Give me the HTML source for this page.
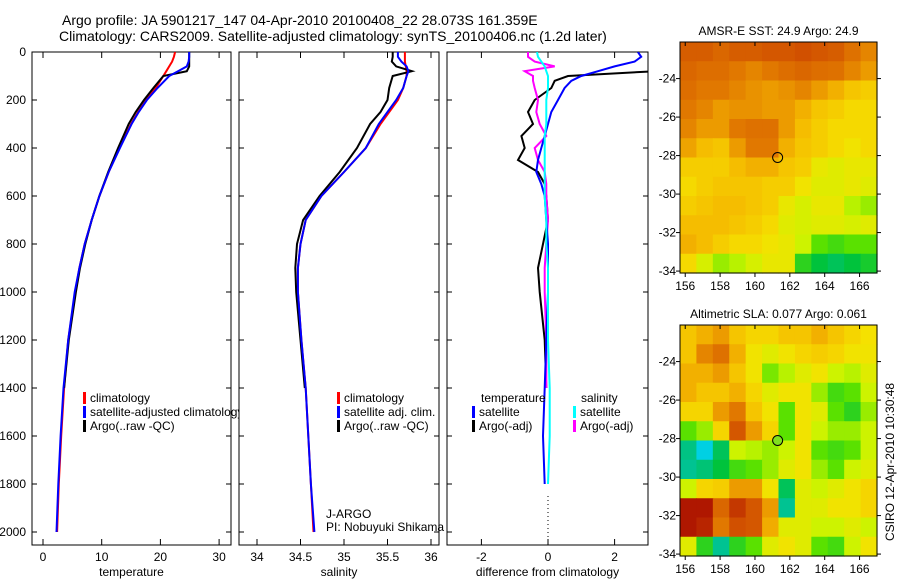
<!DOCTYPE html>
<html><head><meta charset="utf-8"><style>
body{margin:0;background:#fff;}
svg{display:block;font-family:"Liberation Sans",sans-serif;}
</style></head><body>
<svg id="c" width="900" height="580"></svg>
<script>
const depthsP=[0,20,40,60,80,100,150,200,250,300,400,500,600,700,800,900,1000,1200,1400,1600,1800,2000];
const tempClim=[22.5,22.3,22,21.5,21,20.5,19.2,17.6,16.2,15,13,11.2,9.6,8.3,7.1,6.2,5.5,4.3,3.6,3.1,2.7,2.4];
const tempSatClim=[24.9,24.9,24.8,24.5,23,21.5,19.5,17.7,16.3,15.1,13.1,11.2,9.6,8.3,7.1,6.2,5.4,4.3,3.5,3.0,2.6,2.3];
const tempArgo=[24.9,24.9,24.9,24.9,24.5,20.5,18.8,17.2,15.8,14.6,12.8,11.1,9.6,8.3,7.2,6.3,5.6,4.4,3.6,null,null,null];
const salClim=[35.70,35.70,35.70,35.71,35.72,35.72,35.68,35.62,35.52,35.42,35.25,35.0,34.74,34.56,34.5,34.47,34.47,34.51,34.56,34.59,34.62,34.65];
const salSatClim=[35.62,35.62,35.66,35.72,35.74,35.72,35.68,35.6,35.5,35.4,35.25,35.0,34.74,34.56,34.5,34.47,34.47,34.51,34.56,34.59,34.62,34.66];
const salArgo=[35.56,35.56,35.55,35.6,35.78,35.56,35.52,35.50,35.42,35.30,35.15,34.95,34.72,34.53,34.46,34.44,34.45,34.5,34.55,null,null,null];
const depthsD=[0,20,40,60,80,100,120,150,200,250,300,350,400,450,500,550,600,700,800,900,1000,1200,1400,1600,1800];
const dTempSat=[2.7,2.8,2.6,2.0,1.5,1.0,0.7,0.5,0.3,0.1,0,-0.1,-0.2,-0.3,-0.35,-0.2,-0.1,-0.05,0,0,0,-0.05,-0.1,-0.15,-0.1];
const dTempArgo=[3.5,3.5,3.5,3.5,3.2,0.6,0.2,0.1,-0.4,-0.6,-0.45,-0.8,-0.7,-0.9,-0.3,-0.1,-0.05,0,-0.15,-0.3,-0.25,-0.1,-0.05,null,null];
const dSalSat=[-0.33,-0.3,-0.2,-0.1,-0.05,0,0,0,-0.05,-0.05,-0.05,-0.1,-0.1,-0.1,-0.1,-0.1,-0.1,-0.05,-0.05,0,0,0,0.05,0.05,0];
const dSalArgo=[-0.6,-0.6,-0.4,0.2,-0.7,-0.45,-0.45,-0.4,-0.3,-0.35,-0.25,-0.05,-0.4,-0.3,-0.1,-0.05,-0.05,0,-0.05,-0.1,-0.1,-0.05,-0.05,null,null];
const depthTicks=[0,200,400,600,800,1000,1200,1400,1600,1800,2000];
const tempTicks=[0,10,20,30];
const salTicks=[34,34.5,35,35.5,36];
const salTickLabels=["34","34.5","35","35.5","36"];
const diffTicks=[-2,0,2];
const lonTicks=[156,158,160,162,164,166];
const latTicks=[-24,-26,-28,-30,-32,-34];
const sstGrid=[
[0.22,0.22,0.25,0.22,0.22,0.2,0.2,0.18,0.2,0.22,0.28,0.33],
[0.25,0.27,0.27,0.3,0.33,0.3,0.27,0.25,0.27,0.28,0.33,0.38],
[0.27,0.3,0.3,0.33,0.36,0.38,0.36,0.33,0.38,0.43,0.48,0.5],
[0.3,0.33,0.38,0.36,0.36,0.38,0.38,0.43,0.48,0.5,0.53,0.53],
[0.33,0.38,0.38,0.3,0.28,0.28,0.38,0.46,0.5,0.53,0.53,0.53],
[0.4,0.46,0.48,0.38,0.3,0.3,0.43,0.48,0.5,0.53,0.56,0.53],
[0.5,0.5,0.5,0.46,0.43,0.43,0.48,0.5,0.58,0.6,0.58,0.58],
[0.53,0.5,0.48,0.48,0.48,0.5,0.5,0.56,0.6,0.6,0.58,0.6],
[0.5,0.48,0.46,0.46,0.48,0.5,0.58,0.62,0.58,0.58,0.66,0.68],
[0.46,0.46,0.46,0.48,0.5,0.53,0.6,0.62,0.6,0.6,0.62,0.6],
[0.43,0.46,0.5,0.53,0.53,0.56,0.58,0.64,0.72,0.74,0.72,0.72],
[0.53,0.62,0.68,0.66,0.62,0.58,0.58,0.76,0.8,0.82,0.8,0.78]];
const slaGrid=[
[0.48,0.43,0.38,0.48,0.52,0.52,0.48,0.48,0.43,0.48,0.52,0.55],
[0.48,0.33,0.28,0.43,0.56,0.6,0.56,0.52,0.5,0.52,0.56,0.56],
[0.43,0.43,0.38,0.48,0.56,0.7,0.66,0.6,0.56,0.64,0.66,0.6],
[0.43,0.48,0.48,0.43,0.52,0.6,0.56,0.56,0.68,0.74,0.72,0.64],
[0.52,0.52,0.38,0.3,0.48,0.56,0.72,0.56,0.6,0.72,0.76,0.68],
[0.72,0.68,0.52,0.2,0.38,0.52,0.72,0.56,0.64,0.68,0.68,0.64],
[0.85,0.92,0.82,0.64,0.66,0.68,0.64,0.56,0.72,0.74,0.72,0.64],
[0.86,0.84,0.8,0.74,0.72,0.68,0.6,0.56,0.68,0.72,0.64,0.6],
[0.64,0.52,0.5,0.38,0.38,0.56,0.82,0.6,0.64,0.6,0.56,0.52],
[0.05,0.05,0.25,0.12,0.2,0.38,0.86,0.6,0.6,0.56,0.56,0.52],
[0.05,0.08,0.3,0.18,0.2,0.42,0.6,0.6,0.64,0.64,0.6,0.64],
[0.6,0.76,0.86,0.76,0.72,0.6,0.56,0.6,0.72,0.74,0.64,0.56]];
const argoLon=161.3, argoLat=-28.1;

const S=document.getElementById('c');const NS='http://www.w3.org/2000/svg';
function mk(t,a,p){const e=document.createElementNS(NS,t);for(const k in a)e.setAttribute(k,a[k]);(p||S).appendChild(e);return e;}
function txt(x,y,s,anchor,size,p){const e=mk('text',{x:x,y:y,'font-size':size||12,'text-anchor':anchor||'start',fill:'#000'},p);e.textContent=s;return e;}
const yD=d=>52+0.24*d;
function panel(name,x0,x1,sx,ticks,labels,xlabel,leftLabels){
  const g=mk('g',{});
  
  
  const r=mk('rect',{x:x0,y:52,width:x1-x0,height:493,fill:'#fff',stroke:'#000','stroke-width':1},g);
  
  
  ticks.forEach((t,i)=>{const x=sx(t);mk('line',{x1:x,x2:x,y1:545,y2:539,stroke:'#000'},g);mk('line',{x1:x,x2:x,y1:52,y2:58,stroke:'#000'},g);
    const l=txt(x,561,labels[i],'middle',12,g);});
  depthTicks.forEach(d=>{const y=yD(d);mk('line',{x1:x0,x2:x0+5,y1:y,y2:y,stroke:'#000'},g);mk('line',{x1:x1,x2:x1-5,y1:y,y2:y,stroke:'#000'},g);
    if(leftLabels){const l=txt(x0-6,y+4,String(d),'end',12,g);}});
  const xl=txt((x0+x1)/2,576,xlabel,'middle',12,g);
  return g;
}
function line(g,vals,deps,sx,color,name,w){
  let pts=[];vals.forEach((v,i)=>{if(v!==null)pts.push(sx(v).toFixed(1)+','+yD(deps[i]).toFixed(1));});
  const p=mk('polyline',{points:pts.join(' '),fill:'none',stroke:color,'stroke-width':w||2},g);
  
  
}
function legend(g,x,y,color,label,name){
  const m=mk('rect',{x:x,y:y-10,width:3,height:12,fill:color},g);
  
  
  const t=txt(x+7,y,label,'start',12,g);
  
  
}
let t1=txt(62,25,'Argo profile: JA 5901217_147 04-Apr-2010 20100408_22 28.073S 161.359E','start',14);

let t2=txt(59,41,'Climatology: CARS2009. Satellite-adjusted climatology: synTS_20100406.nc (1.2d later)','start',14);

const sT=v=>43+5.87*v;
const g1=panel('temperature-panel',32,231,sT,tempTicks,tempTicks.map(String),'temperature',true);
const cp1=mk('clipPath',{id:'cp1'});mk('rect',{x:32,y:52,width:199,height:493},cp1);
const g1c=mk('g',{'clip-path':'url(#cp1)'},g1);
line(g1c,tempClim,depthsP,sT,'#f00','temp-climatology-line');
line(g1c,tempArgo,depthsP,sT,'#000','temp-argo-line');
line(g1c,tempSatClim,depthsP,sT,'#00f','temp-satellite-line');
legend(g1,83,402,'#f00','climatology','legend-climatology');
legend(g1,83,416,'#00f','satellite-adjusted climatology','legend-satellite-adjusted');
legend(g1,83,430,'#000','Argo(..raw -QC)','legend-argo');
const sS=v=>257+87*(v-34);
const g2=panel('salinity-panel',239,439,sS,salTicks,salTickLabels,'salinity',false);
const cp2=mk('clipPath',{id:'cp2'});mk('rect',{x:239,y:52,width:200,height:493},cp2);
const g2c=mk('g',{'clip-path':'url(#cp2)'},g2);
line(g2c,salClim,depthsP,sS,'#f00','sal-climatology-line');
line(g2c,salArgo,depthsP,sS,'#000','sal-argo-line');
line(g2c,salSatClim,depthsP,sS,'#00f','sal-satellite-line');
legend(g2,337,402,'#f00','climatology','legend-sal-climatology');
legend(g2,337,416,'#00f','satellite adj. clim.','legend-sal-satellite');
legend(g2,337,430,'#000','Argo(..raw -QC)','legend-sal-argo');
let pi1=txt(326,518,'J-ARGO','start',12,g2);
let pi2=txt(326,531,'PI: Nobuyuki Shikama','start',12);
const sDf=v=>548+33.3*v;
const g3=panel('difference-panel',447,648,sDf,diffTicks,diffTicks.map(String),'difference from climatology',false);
const cp3=mk('clipPath',{id:'cp3'});mk('rect',{x:447,y:52,width:201,height:493},cp3);
const g3c=mk('g',{'clip-path':'url(#cp3)'},g3);
const zl=mk('line',{x1:sDf(0),x2:sDf(0),y1:yD(1850),y2:545,stroke:'#000','stroke-dasharray':'1,3'},g3);

line(g3c,dTempArgo,depthsD,sDf,'#000','diff-temp-argo-line');
line(g3c,dSalArgo,depthsD,sDf,'#f0f','diff-sal-argo-line');
line(g3c,dTempSat,depthsD,sDf,'#00f','diff-temp-satellite-line');
line(g3c,dSalSat,depthsD,sDf,'#0ff','diff-sal-satellite-line');
let lt=txt(481,402,'temperature','start',12,g3);
legend(g3,472,416,'#00f','satellite','legend-temp-satellite');
legend(g3,472,430,'#000','Argo(-adj)','legend-temp-argo');
let ls=txt(581,402,'salinity','start',12,g3);
legend(g3,573,416,'#0ff','satellite','legend-sal-satellite-diff');
legend(g3,573,430,'#f0f','Argo(-adj)','legend-sal-argo-diff');
const stops=[[0,[160,0,0]],[0.15,[205,70,0]],[0.3,[225,120,0]],[0.45,[245,185,0]],[0.55,[245,225,0]],[0.65,[200,245,0]],[0.72,[90,225,0]],[0.8,[0,195,60]],[0.87,[0,195,160]],[0.93,[0,210,240]],[1,[0,128,255]]];
function cmap(v){for(let i=1;i<stops.length;i++){if(v<=stops[i][0]){const a=stops[i-1],b=stops[i],f=(v-a[0])/(b[0]-a[0]);return 'rgb('+a[1].map((c,k)=>Math.round(c+(b[1][k]-c)*f)).join(',')+')';}}return 'rgb(0,128,255)';}
function mapPanel(name,y0,grid,title,fillCircle){
  const x0=680,x1=877,y1=y0+231,lon0=155.7,lon1=167.0,lat0=-22.1,lat1=-34.1;
  const sx=l=>x0+(l-lon0)/(lon1-lon0)*(x1-x0), sy=l=>y0+(lat0-l)/(lat0-lat1)*(y1-y0);
  const g=mk('g',{});
  
  
  const nr=grid.length,nc=grid[0].length,cw=(x1-x0)/nc,ch=(y1-y0)/nr;
  grid.forEach((row,r)=>row.forEach((v,c)=>{const e=mk('rect',{x:x0+c*cw,y:y0+r*ch,width:cw+0.6,height:ch+0.6,fill:cmap(v)},g);
    
    }));
  const fr=mk('rect',{x:x0,y:y0,width:x1-x0,height:y1-y0,fill:'none',stroke:'#000'},g);
  
  lonTicks.forEach(l=>{const x=sx(l);mk('line',{x1:x,x2:x,y1:y0,y2:y0+4,stroke:'#000'},g);mk('line',{x1:x,x2:x,y1:y1,y2:y1+4,stroke:'#000'},g);
    const e=txt(x,y1+17,String(l),'middle',12,g);});
  latTicks.forEach(l=>{const y=sy(l);mk('line',{x1:x0-4,x2:x0,y1:y,y2:y,stroke:'#000'},g);mk('line',{x1:x1,x2:x1+4,y1:y,y2:y,stroke:'#000'},g);
    const e=txt(x0-4,y+4,String(l),'end',12,g);});
  const tt=txt((x0+x1)/2,y0-7,title,'middle',12,g);
  const ci=mk('circle',{cx:sx(argoLon),cy:sy(argoLat),r:5,fill:fillCircle?'#80e020':'none',stroke:'#000'},g);
  
}
mapPanel('sst-map',42,sstGrid,'AMSR-E SST: 24.9 Argo: 24.9',false);
mapPanel('sla-map',325,slaGrid,'Altimetric SLA: 0.077 Argo: 0.061',true);
const cs=txt(0,0,'CSIRO 12-Apr-2010 10:30:48','middle',12);
cs.setAttribute('transform','translate(894,462) rotate(-90)');

</script>
</body></html>
